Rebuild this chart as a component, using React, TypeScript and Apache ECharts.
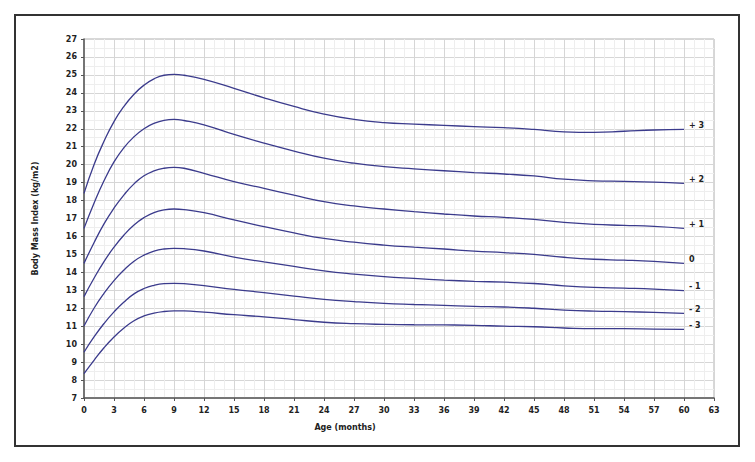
import React, { useEffect, useRef } from "react";
import * as echarts from "echarts";

const months = [0, 1, 2, 3, 4, 5, 6, 7, 8, 9, 10, 12, 15, 18, 21, 24, 27, 30, 33, 36, 39, 42, 45, 48, 51, 54, 57, 60];

const sdPlus3 = [18.4, 20.0, 21.3, 22.4, 23.25, 23.92, 24.43, 24.78, 24.98, 25.03, 24.98, 24.75, 24.25, 23.72, 23.24, 22.82, 22.52, 22.34, 22.26, 22.19, 22.12, 22.06, 21.96, 21.83, 21.8, 21.86, 21.93, 21.97];
const sdPlus2 = [16.45, 17.85, 19.1, 20.15, 20.95, 21.55, 22.0, 22.3, 22.47, 22.52, 22.46, 22.22, 21.68, 21.2, 20.76, 20.36, 20.08, 19.89, 19.77, 19.66, 19.56, 19.48, 19.37, 19.19, 19.1, 19.07, 19.03, 18.96];
const sdPlus1 = [14.5, 15.65, 16.7, 17.58, 18.32, 18.93, 19.38, 19.65, 19.8, 19.85, 19.8, 19.52, 19.05, 18.68, 18.3, 17.94, 17.7, 17.53, 17.38, 17.25, 17.14, 17.06, 16.95, 16.78, 16.67, 16.62, 16.56, 16.45];
const sdZero = [12.65, 13.67, 14.6, 15.4, 16.08, 16.64, 17.05, 17.33, 17.48, 17.53, 17.5, 17.33, 16.92, 16.55, 16.2, 15.89, 15.68, 15.52, 15.4, 15.3, 15.18, 15.1, 15.0, 14.84, 14.73, 14.68, 14.61, 14.5];
const sdMinus1 = [11.01, 12.0, 12.83, 13.54, 14.13, 14.62, 14.96, 15.18, 15.3, 15.34, 15.32, 15.19, 14.85, 14.58, 14.33, 14.08, 13.9, 13.76, 13.66, 13.57, 13.5, 13.45, 13.38, 13.25, 13.16, 13.12, 13.07, 12.98];
const sdMinus2 = [9.55, 10.4, 11.15, 11.8, 12.35, 12.8, 13.1, 13.28, 13.37, 13.39, 13.37, 13.26, 13.05, 12.87, 12.68, 12.5, 12.37, 12.27, 12.21, 12.16, 12.1, 12.07, 12.0, 11.9, 11.84, 11.81, 11.77, 11.72];
const sdMinus3 = [8.36, 9.1, 9.8, 10.4, 10.9, 11.3, 11.57, 11.73, 11.82, 11.85, 11.85, 11.78, 11.64, 11.52, 11.37, 11.22, 11.14, 11.1, 11.08, 11.07, 11.05, 11.0, 10.97, 10.9, 10.86, 10.86, 10.84, 10.82];

const curveLabels = ["+ 3", "+ 2", "+ 1", "0", "- 1", "- 2", "- 3"];
const curves = [sdPlus3, sdPlus2, sdPlus1, sdZero, sdMinus1, sdMinus2, sdMinus3];

const xTitle = "Age (months)";
const yTitle = "Body Mass Index (kg/m2)";

const FONT = "DejaVu Sans";

export default function App() {
  const ref = useRef<HTMLDivElement>(null);
  useEffect(() => {
    document.body.style.margin = "0";
    const chart = echarts.init(ref.current!, null, { renderer: "svg" });
    const lineColor = "#3b3b8c";
    chart.setOption({
      animation: false,
      backgroundColor: "#ffffff",
      textStyle: { fontFamily: FONT },
      grid: {
        left: 84,
        top: 39,
        width: 630,
        height: 359,
        show: true,
        borderColor: "#b0b0b0",
        borderWidth: 1,
        backgroundColor: "transparent",
      },
      xAxis: {
        type: "value",
        min: 0,
        max: 63,
        interval: 3,
        name: xTitle,
        nameLocation: "middle",
        nameGap: 25,
        nameTextStyle: { fontFamily: FONT, fontWeight: "bold", fontSize: 8, color: "#222", padding: [0, 108, 0, 0] },
        axisLine: { show: true, lineStyle: { color: "#555", width: 1.5 } },
        axisTick: { show: true, length: 3, lineStyle: { color: "#555" } },
        axisLabel: { fontFamily: FONT, fontWeight: "bold", fontSize: 8, color: "#222", margin: 8 },
        splitLine: { show: true, lineStyle: { color: "#d6d6d6", width: 1 } },
        minorTick: { show: false, splitNumber: 3 },
        minorSplitLine: { show: true, lineStyle: { color: "#eeeeee", width: 1 } },
      },
      yAxis: {
        type: "value",
        min: 7,
        max: 27,
        interval: 1,
        name: yTitle,
        nameLocation: "middle",
        nameGap: 45,
        nameRotate: 90,
        nameTextStyle: { fontFamily: FONT, fontWeight: "bold", fontSize: 8, color: "#222" },
        axisLine: { show: true, lineStyle: { color: "#555", width: 1.5 } },
        axisTick: { show: true, length: 3, lineStyle: { color: "#555" } },
        axisLabel: { fontFamily: FONT, fontWeight: "bold", fontSize: 8, color: "#222", margin: 7 },
        splitLine: { show: true, lineStyle: { color: "#d6d6d6", width: 1 } },
        minorTick: { show: false, splitNumber: 2 },
        minorSplitLine: { show: true, lineStyle: { color: "#eeeeee", width: 1 } },
      },
      series: curves.map((vals, i) => ({
        type: "line",
        name: curveLabels[i],
        data: months.map((m, j) => [m, vals[j]]),
        smooth: 0.5,
        showSymbol: false,
        symbol: "none",
        lineStyle: { color: lineColor, width: 1.3 },
        endLabel: {
          show: true,
          formatter: curveLabels[i],
          fontFamily: FONT,
          fontWeight: "bold",
          fontSize: 8,
          color: "#222",
          distance: 5,
          offset: [0, -4],
        },
      })),
      graphic: [
        {
          type: "rect",
          shape: { x: 15, y: 15, width: 724, height: 431 },
          style: { fill: "none", stroke: "#333", lineWidth: 2 },
          silent: true,
        },
      ],
    });
    return () => chart.dispose();
  }, []);
  return <div ref={ref} style={{ width: 755, height: 462 }} />;
}
